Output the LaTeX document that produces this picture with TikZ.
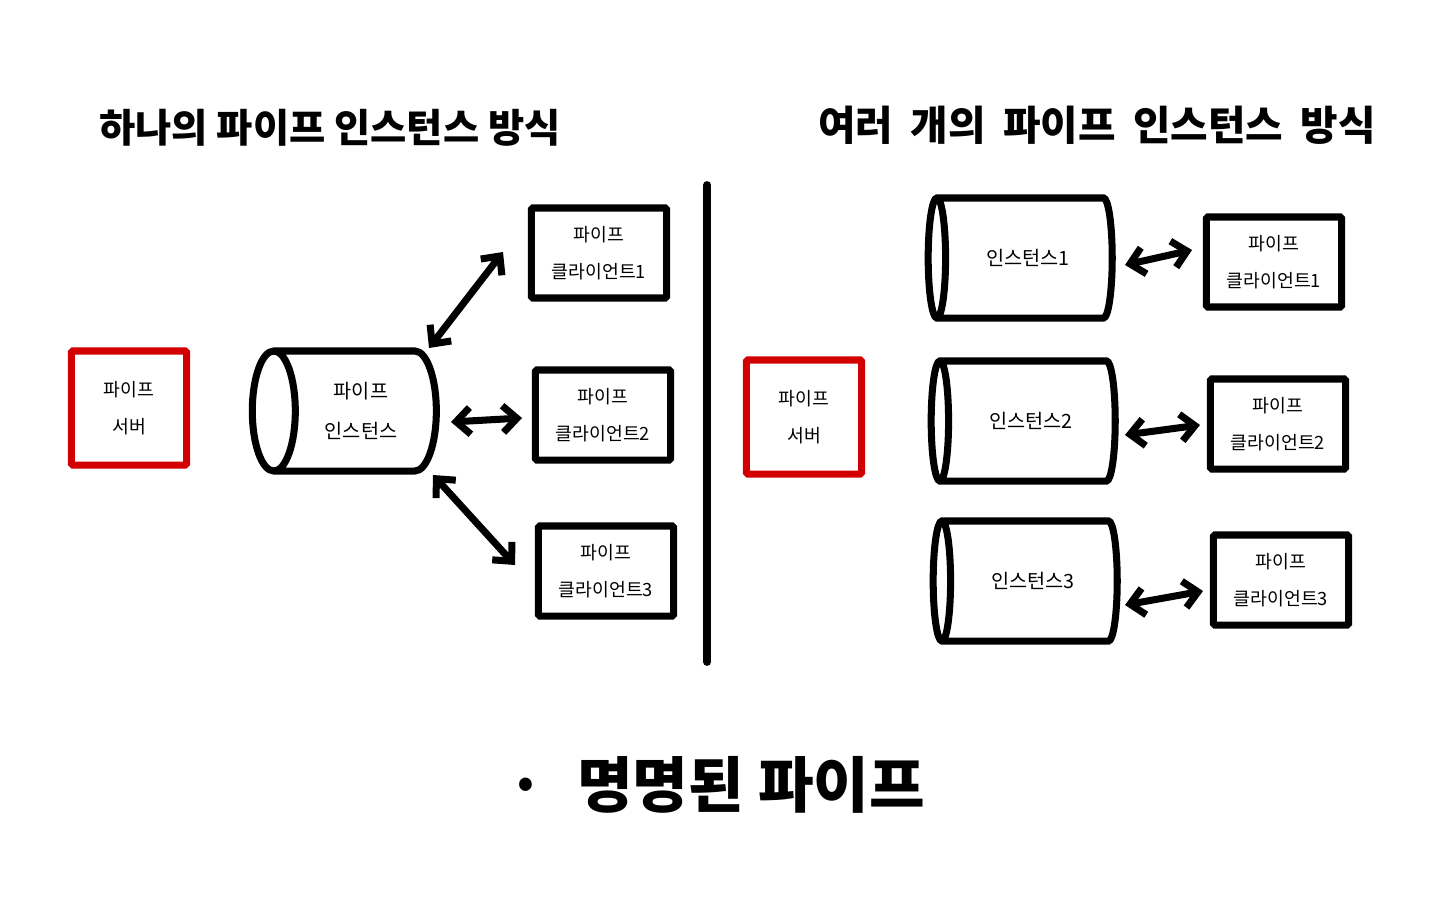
\documentclass[tikz,border=0pt]{standalone}
\usepackage{fontspec}
\setmainfont{Noto Sans CJK KR}
\usepackage{tikz}
\usetikzlibrary{shapes.geometric,arrows.meta,calc}
\definecolor{serverred}{RGB}{210,0,0}

\tikzset{
	pipebox/.style={draw=black, line width=5pt, rounded corners=1pt, minimum width=3.38cm, minimum height=2.25cm, align=center, font=\fontsize{13}{26}\selectfont},
	serverbox/.style={pipebox, draw=serverred, minimum width=2.88cm, minimum height=2.85cm},
	pipecyl/.style={cylinder, shape border rotate=180, draw=black, line width=5pt, aspect=0.65, minimum height=4.6cm, minimum width=3.0cm, align=center, font=\fontsize{14}{28}\selectfont},
	pipearrow/.style={{Straight Barb[length=10pt,width=19pt]}-{Straight Barb[length=10pt,width=19pt]}, line width=5pt, line cap=round, line join=round},
	titletext/.style={font=\fontsize{28}{32}\selectfont\bfseries}
}

\begin{document}
\begin{tikzpicture}[x=0.025cm, y=-0.025cm]
	\useasboundingbox (0,0) rectangle (1440,900);
	
	% TITRES
	\node[titletext] (lefttitle) at (330,128) {하나의 파이프 인스턴스 방식};
	\node[titletext, font=\fontsize{29}{32}\selectfont\bfseries] (righttitle) at (1097,125) {여러\hspace{0.2em} 개의\hspace{0.2em} 파이프\hspace{0.2em} 인스턴스\hspace{0.2em} 방식};
	
	% SEPARATION
	\draw[line width=5.5pt, line cap=round] (707,185) -- (707,662);
	
	% GAUCHE : UNE INSTANCE
	\node[serverbox] (lserver) at (129,408) {파이프\\서버};
	\node[pipecyl] (linst) at (361,411) {파이프\\인스턴스};
	\node[pipebox] (lcl1) at (599,253) {파이프\\클라이언트1};
	\node[pipebox] (lcl2) at (603,415) {파이프\\클라이언트2};
	\node[pipebox] (lcl3) at (606,571) {파이프\\클라이언트3};
	
	% FLECHES
	\draw[pipearrow] ($(linst.center)+(68,-63)$) -- ($(lcl1.center)+(-96,-1)$);
	\draw[pipearrow] ($(linst.center)+(90,11)$) -- ($(lcl2.center)+(-81,3)$);
	\draw[pipearrow] ($(linst.center)+(72,64)$) -- ($(lcl3.center)+(-91,-6)$);
	
	% DROITE : PLUSIEURS INSTANCES
	\node[serverbox] (rserver) at (804,417) {파이프\\서버};
	\node[pipecyl] (rinst1) at (1028,258) {인스턴스1};
	\node[pipecyl] (rinst2) at (1031,421) {인스턴스2};
	\node[pipecyl] (rinst3) at (1033,581) {인스턴스3};
	\node[pipebox] (rcl1) at (1274,262) {파이프\\클라이언트1};
	\node[pipebox] (rcl2) at (1278,424) {파이프\\클라이언트2};
	\node[pipebox] (rcl3) at (1281,580) {파이프\\클라이언트3};
	
	% FLECHES
	\draw[pipearrow] ($(rinst1.center)+(97,7)$) -- ($(rcl1.center)+(-82,-12)$);
	\draw[pipearrow] ($(rinst2.center)+(94,14)$) -- ($(rcl2.center)+(-78,1)$);
	\draw[pipearrow] ($(rinst3.center)+(92,24)$) -- ($(rcl3.center)+(-78,11)$);
	
	% BAS
	\node[font=\fontsize{43}{46}\selectfont\bfseries] (bottomtitle) at (716,785) {·\hspace{0.55em}명명된 파이프};
	
\end{tikzpicture}
\end{document}
